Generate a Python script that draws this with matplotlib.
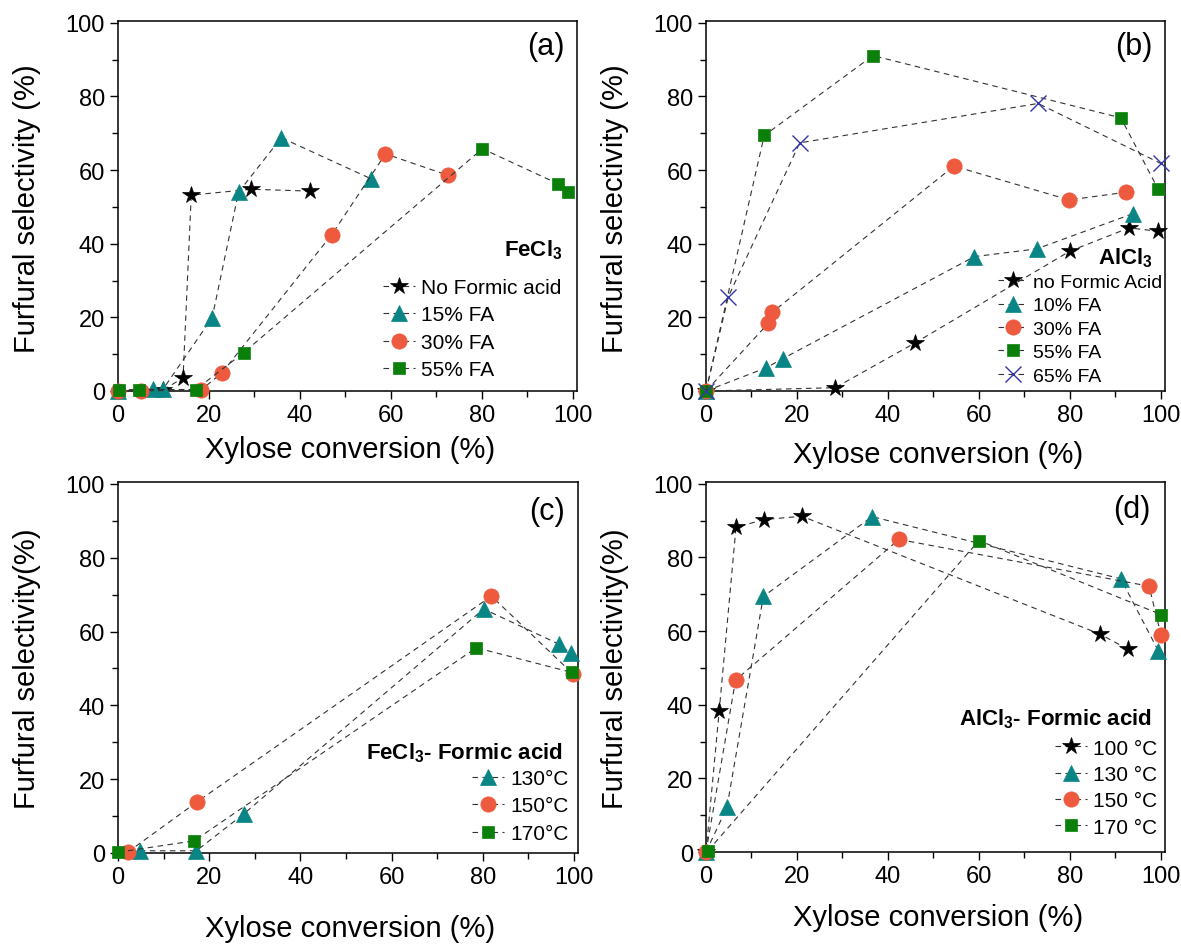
import matplotlib
matplotlib.use('Agg')
import matplotlib.pyplot as plt
from matplotlib.ticker import MultipleLocator

plt.rcParams['font.family'] = ['Liberation Sans', 'DejaVu Sans']
plt.rcParams['mathtext.fontset'] = 'custom'
plt.rcParams['mathtext.bf'] = 'Liberation Sans:bold'
plt.rcParams['mathtext.rm'] = 'Liberation Sans'

# (a) FeCl3, formic acid content
a_nofa_x = [10.0, 14.3, 16.1, 29.3, 42.1]
a_nofa_y = [0.3, 3.6, 53.2, 54.8, 54.3]
a_15_x = [0.0, 7.7, 9.9, 20.7, 26.5, 35.9, 55.7]
a_15_y = [0.0, 0.5, 0.5, 19.9, 54.0, 68.8, 57.6]
a_30_x = [0.0, 5.0, 18.3, 22.9, 47.0, 58.8, 72.5]
a_30_y = [0.0, 0.0, 0.3, 5.0, 42.5, 64.4, 58.6]
a_55_x = [0.2, 4.6, 17.1, 27.6, 80.1, 96.7, 99.0]
a_55_y = [0.3, 0.4, 0.4, 10.4, 65.8, 56.3, 54.0]

# (b) AlCl3, formic acid content
b_nofa_x = [0.0, 28.4, 46.0, 80.0, 93.0, 99.4]
b_nofa_y = [0.0, 0.9, 13.1, 38.0, 44.3, 43.4]
b_10_x = [0.0, 13.2, 16.9, 59.0, 72.7, 93.9]
b_10_y = [0.0, 6.3, 8.8, 36.5, 38.6, 48.2]
b_30_x = [0.0, 13.7, 14.6, 54.5, 79.8, 92.4]
b_30_y = [0.0, 18.4, 21.4, 61.1, 51.9, 54.0]
b_55_x = [0.0, 12.8, 36.7, 91.2, 99.4]
b_55_y = [0.0, 69.4, 91.1, 74.2, 54.8]
b_65_x = [0.0, 4.9, 20.6, 73.0, 100.0]
b_65_y = [0.0, 25.6, 67.4, 78.1, 61.8]

# (c) FeCl3 - formic acid, temperature
c_130_x = [4.8, 17.2, 27.6, 80.2, 96.7, 99.3]
c_130_y = [0.6, 0.6, 10.6, 66.1, 56.6, 54.1]
c_150_x = [2.1, 17.4, 81.9, 99.8]
c_150_y = [0.2, 13.9, 69.6, 48.5]
c_170_x = [0.0, 16.7, 78.6, 99.6]
c_170_y = [0.2, 3.3, 55.6, 48.9]

# (d) AlCl3 - formic acid, temperature
d_100_x = [0.0, 2.9, 6.6, 12.8, 21.1, 86.6, 92.7]
d_100_y = [0.0, 38.3, 88.2, 90.3, 91.2, 59.2, 55.1]
d_130_x = [0.0, 4.6, 12.6, 36.5, 91.2, 99.4]
d_130_y = [0.0, 12.1, 69.4, 91.1, 74.2, 54.7]
d_150_x = [0.0, 6.5, 42.4, 97.4, 100.0]
d_150_y = [0.0, 46.7, 84.9, 72.2, 59.0]
d_170_x = [0.4, 60.0, 100.0]
d_170_y = [0.3, 84.6, 64.5]

teal = '#0a8585'
red = '#ee5a3e'
green = '#0a800a'
navy = '#3535a8'
black = '#000000'
linec = '#333333'

sty = {
    'star': dict(marker='*', ms=13, color=black),
    'tri': dict(marker='^', ms=12, color=teal),
    'circ': dict(marker='o', ms=11, color=red),
    'sq': dict(marker='s', ms=9, color=green),
    'x': dict(marker='x', ms=11, color=navy, mew=1.0),
}


def series(ax, x, y, kind, label):
    s = sty[kind]
    ax.plot(x, y, linestyle=(0, (5, 4)), lw=0.8, color=linec,
            marker=s['marker'], ms=s['ms'], mfc=s['color'], mec=s['color'],
            mew=s.get('mew', 0.5), label=label, clip_on=False, zorder=3)


def style_axes(ax):
    ax.set_xlim(0, 100.9)
    ax.set_ylim(0, 100.5)
    ax.xaxis.set_major_locator(MultipleLocator(20))
    ax.xaxis.set_minor_locator(MultipleLocator(10))
    ax.yaxis.set_major_locator(MultipleLocator(20))
    ax.yaxis.set_minor_locator(MultipleLocator(10))
    ax.tick_params(which='both', direction='out', top=False, right=False, labelsize=17)
    ax.tick_params(which='major', length=6, width=1)
    ax.tick_params(which='minor', length=4, width=1)
    for sp in ax.spines.values():
        sp.set_linewidth(1.1)


W, H = 1181, 945
fig = plt.figure(figsize=(W / 100, H / 100), dpi=100)


def add_axes(l, r, t, b):
    return fig.add_axes([l / W, 1 - b / H, (r - l) / W, (b - t) / H])


axa = add_axes(118, 577, 22, 392)
axb = add_axes(706, 1165, 22, 392)
axc = add_axes(118, 578, 483, 854)
axd = add_axes(706, 1165, 483, 853)

# (a)
series(axa, a_nofa_x, a_nofa_y, 'star', 'No Formic acid')
series(axa, a_15_x, a_15_y, 'tri', '15% FA')
series(axa, a_30_x, a_30_y, 'circ', '30% FA')
series(axa, a_55_x, a_55_y, 'sq', '55% FA')
axa.legend(loc='upper left', bbox_to_anchor=(0.577, 0.305), frameon=False, fontsize=15,
           borderpad=0, borderaxespad=0, handlelength=1.55, handletextpad=0.3, labelspacing=0.4)
axa.text(0.969, 0.384, r'FeCl$_\mathbf{3}$', transform=axa.transAxes, ha='right', va='center',
         fontsize=16, fontweight='bold')
axa.text(0.932, 0.932, '(a)', transform=axa.transAxes, ha='center', va='center', fontsize=22)

# (b)
series(axb, b_nofa_x, b_nofa_y, 'star', 'no Formic Acid')
series(axb, b_10_x, b_10_y, 'tri', '10% FA')
series(axb, b_30_x, b_30_y, 'circ', '30% FA')
series(axb, b_55_x, b_55_y, 'sq', '55% FA')
series(axb, b_65_x, b_65_y, 'x', '65% FA')
axb.legend(loc='upper left', bbox_to_anchor=(0.636, 0.318), frameon=False, fontsize=14,
           borderpad=0, borderaxespad=0, handlelength=1.5, handletextpad=0.3, labelspacing=0.3)
axb.text(0.974, 0.362, r'AlCl$_\mathbf{3}$', transform=axb.transAxes, ha='right', va='center',
         fontsize=16, fontweight='bold')
axb.text(0.932, 0.932, '(b)', transform=axb.transAxes, ha='center', va='center', fontsize=22)

# (c)
series(axc, c_130_x, c_130_y, 'tri', '130\u00b0C')
series(axc, c_150_x, c_150_y, 'circ', '150\u00b0C')
series(axc, c_170_x, c_170_y, 'sq', '170\u00b0C')
axc.legend(loc='upper left', bbox_to_anchor=(0.77, 0.226), frameon=False, fontsize=15,
           borderpad=0, borderaxespad=0, handlelength=1.55, handletextpad=0.3, labelspacing=0.4)
axc.text(0.967, 0.272, r'FeCl$_\mathbf{3}$- Formic acid', transform=axc.transAxes, ha='right',
         va='center', fontsize=16, fontweight='bold')
axc.text(0.932, 0.922, '(c)', transform=axc.transAxes, ha='center', va='center', fontsize=22)

# (d)
series(axd, d_100_x, d_100_y, 'star', '100 \u00b0C')
series(axd, d_130_x, d_130_y, 'tri', '130 \u00b0C')
series(axd, d_150_x, d_150_y, 'circ', '150 \u00b0C')
series(axd, d_170_x, d_170_y, 'sq', '170 \u00b0C')
axd.legend(loc='upper left', bbox_to_anchor=(0.76, 0.306), frameon=False, fontsize=15,
           borderpad=0, borderaxespad=0, handlelength=1.55, handletextpad=0.3, labelspacing=0.35)
axd.text(0.972, 0.362, r'AlCl$_\mathbf{3}$- Formic acid', transform=axd.transAxes, ha='right',
         va='center', fontsize=16, fontweight='bold')
axd.text(0.927, 0.927, '(d)', transform=axd.transAxes, ha='center', va='center', fontsize=22)

for ax in (axa, axb, axc, axd):
    style_axes(ax)

# axis labels
fig.text(350 / W, 1 - 450 / H, 'Xylose conversion (%)', ha='center', va='center', fontsize=21)
fig.text(938 / W, 1 - 455 / H, 'Xylose conversion (%)', ha='center', va='center', fontsize=21)
fig.text(350 / W, 1 - 929 / H, 'Xylose conversion (%)', ha='center', va='center', fontsize=21)
fig.text(938 / W, 1 - 918 / H, 'Xylose conversion (%)', ha='center', va='center', fontsize=21)
fig.text(27 / W, 1 - 209 / H, 'Furfural selectivity (%)', ha='center', va='center', rotation=90, fontsize=21)
fig.text(615 / W, 1 - 209 / H, 'Furfural selectivity (%)', ha='center', va='center', rotation=90, fontsize=21)
fig.text(27 / W, 1 - 669 / H, 'Furfural selectivity(%)', ha='center', va='center', rotation=90, fontsize=21)
fig.text(615 / W, 1 - 669 / H, 'Furfural selectivity(%)', ha='center', va='center', rotation=90, fontsize=21)

fig.savefig('out.png', dpi=100)
